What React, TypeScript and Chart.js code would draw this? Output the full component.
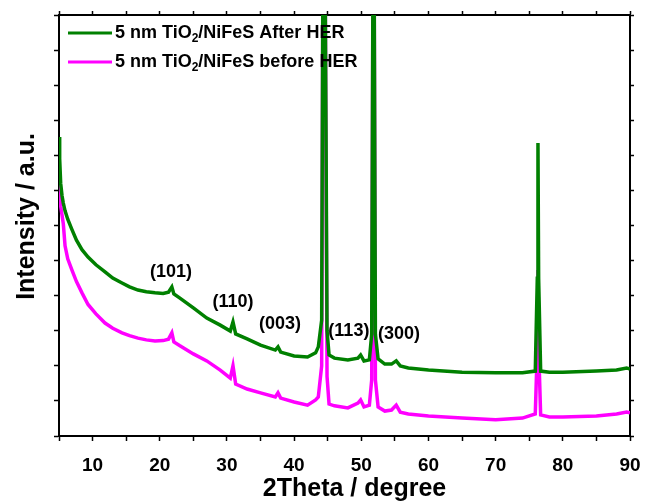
import React, { useEffect, useRef } from 'react';
import { Chart, registerables } from 'chart.js';

Chart.register(...registerables);

// 2Theta positions (degree)
const twoTheta = [
  5.0, 5.1, 5.25, 5.45, 5.64, 5.9, 6.3, 6.93, 7.6, 8.42, 9.32, 10.5, 11.85, 13, 14.38, 15.5, 16.76, 18, 19.29, 20.5,
  21.3, 21.8, 22.1, 23, 25, 27, 29, 30.5, 30.9, 31.3, 33, 35, 37.2, 37.6, 38, 40, 42, 43.2, 43.6, 44.1,
  44.3, 44.6, 44.9, 45.2, 46, 48, 49.5, 49.9, 50.4, 51.2, 51.55, 51.75, 51.9, 52.1, 52.5, 53.5, 54.5, 55.2, 55.8, 57,
  60, 65, 70, 74, 75.9, 76.2, 76.3, 76.4, 76.7, 78, 80, 85, 88, 89.5, 90,
];

// Intensity (a.u.) – 5 nm TiO2/NiFeS after HER
const afterHER = [
  8.52, 7.9, 7.2, 6.85, 6.64, 6.42, 6.18, 5.88, 5.58, 5.31, 5.1, 4.88, 4.68, 4.5, 4.36, 4.25, 4.16, 4.11, 4.08, 4.06,
  4.1, 4.25, 4.05, 3.93, 3.65, 3.36, 3.16, 2.99, 3.25, 2.91, 2.77, 2.59, 2.45, 2.54, 2.39, 2.28, 2.25, 2.37, 2.54, 3.3,
  14, 14, 3.0, 2.31, 2.22, 2.17, 2.22, 2.31, 2.14, 2.17, 2.9, 14, 14, 2.9, 2.2, 2.05, 2.05, 2.14, 2.0, 1.94,
  1.88, 1.82, 1.8, 1.8, 1.85, 4.5, 8.35, 4.5, 1.85, 1.82, 1.82, 1.85, 1.88, 1.94, 1.91,
];

// Intensity (a.u.) – 5 nm TiO2/NiFeS before HER
const beforeHER = [
  7.16, 6.85, 6.55, 6.3, 6.05, 5.42, 5.05, 4.73, 4.4, 4.08, 3.75, 3.48, 3.22, 3.07, 2.94, 2.86, 2.79, 2.74, 2.71, 2.72,
  2.76, 2.94, 2.68, 2.57, 2.34, 2.14, 1.88, 1.65, 2.0, 1.48, 1.34, 1.23, 1.11, 1.23, 1.08, 0.97, 0.88, 1.03, 1.11, 2.0,
  14, 14, 1.7, 0.91, 0.86, 0.8, 0.94, 1.03, 0.83, 0.88, 1.6, 14, 14, 1.6, 0.83, 0.71, 0.74, 0.88, 0.68, 0.63,
  0.57, 0.51, 0.46, 0.51, 0.63, 2.5, 4.73, 2.5, 0.6, 0.54, 0.54, 0.57, 0.63, 0.68, 0.66,
];

const seriesColors = ['#008000', '#ff00ff'];
const legendPrefix = '5 nm TiO';
const legendSub = '2';
const legendSuffixes = ['/NiFeS After HER', '/NiFeS before HER'];

const peakLabels = ['(101)', '(110)', '(003)', '(113)', '(300)'];
const peakLabelX = [21.67, 30.9, 37.9, 48.15, 55.6];
const peakLabelY = [4.68, 3.82, 3.19, 2.99, 2.91];

const xTitle = '2Theta / degree';
const yTitle = 'Intensity / a.u.';

const FONT = '"Liberation Sans", Arial, sans-serif';

const overlayPlugin = {
  id: 'overlay',
  afterDraw(chart: any) {
    const { ctx, chartArea, scales } = chart;
    ctx.save();
    ctx.fillStyle = '#000';
    ctx.font = `bold 18px ${FONT}`;
    ctx.textAlign = 'center';
    ctx.textBaseline = 'middle';
    peakLabels.forEach((t, i) => {
      ctx.fillText(t, scales.x.getPixelForValue(peakLabelX[i]), scales.y.getPixelForValue(peakLabelY[i]));
    });
    // axis titles
    ctx.font = `bold 25px ${FONT}`;
    ctx.fillText(xTitle, (chartArea.left + chartArea.right) / 2 + 10, 489);
    ctx.save();
    ctx.translate(27, (chartArea.top + chartArea.bottom) / 2 - 9);
    ctx.rotate(-Math.PI / 2);
    ctx.fillText(yTitle, 0, 0);
    ctx.restore();
    // legend
    legendSuffixes.forEach((suffix, i) => {
      const y = chartArea.top + 18 + i * 29;
      const x0 = chartArea.left + 9;
      ctx.strokeStyle = seriesColors[i];
      ctx.lineWidth = 3;
      ctx.beginPath();
      ctx.moveTo(x0, y);
      ctx.lineTo(x0 + 44, y);
      ctx.stroke();
      ctx.fillStyle = '#000';
      ctx.textAlign = 'left';
      ctx.textBaseline = 'middle';
      let x = x0 + 47;
      ctx.font = `bold 18px ${FONT}`;
      ctx.fillText(legendPrefix, x, y);
      x += ctx.measureText(legendPrefix).width;
      ctx.font = `bold 12px ${FONT}`;
      ctx.fillText(legendSub, x, y + 6);
      x += ctx.measureText(legendSub).width;
      ctx.font = `bold 18px ${FONT}`;
      ctx.fillText(suffix, x, y);
    });
    ctx.restore();
  },
};

export default function App() {
  const ref = useRef<HTMLCanvasElement | null>(null);
  useEffect(() => {
    if (!ref.current) return;
    const tickGrid = (len: number) => ({
      drawOnChartArea: false,
      drawTicks: true,
      tickLength: len,
      color: '#000',
      tickWidth: 1.5,
    });
    const border = { display: true, color: '#000', width: 2 };
    const noPad = (s: any) => {
      s.paddingLeft = 0;
      s.paddingRight = 0;
      s.paddingTop = 0;
      s.paddingBottom = 0;
    };
    const chart = new Chart(ref.current, {
      type: 'line',
      data: {
        datasets: [
          {
            label: legendPrefix + legendSub + legendSuffixes[0],
            data: twoTheta.map((x, i) => ({ x, y: afterHER[i] })),
            borderColor: seriesColors[0],
            borderWidth: 3.5,
            pointRadius: 0,
            tension: 0,
          },
          {
            label: legendPrefix + legendSub + legendSuffixes[1],
            data: twoTheta.map((x, i) => ({ x, y: beforeHER[i] })),
            borderColor: seriesColors[1],
            borderWidth: 3.5,
            pointRadius: 0,
            tension: 0,
          },
        ],
      },
      options: {
        animation: false,
        responsive: false,
        devicePixelRatio: 1,
        layout: { padding: 0 },
        plugins: { legend: { display: false }, tooltip: { enabled: false } },
        scales: {
          x: {
            type: 'linear',
            position: 'bottom',
            min: 5,
            max: 90,
            ticks: {
              stepSize: 5,
              autoSkip: false,
              maxRotation: 0,
              padding: 13,
              color: '#000',
              font: { family: FONT, size: 19, weight: 'bold' },
              callback: (v: any) => (Number(v) % 10 === 0 ? String(v) : ''),
            },
            grid: tickGrid(5),
            border,
            afterFit: (s: any) => {
              s.height = 67;
              noPad(s);
            },
          },
          x2: {
            type: 'linear',
            position: 'top',
            min: 5,
            max: 90,
            ticks: { stepSize: 5, autoSkip: false, maxRotation: 0, callback: () => '' },
            grid: tickGrid(4),
            border,
            afterFit: (s: any) => {
              s.height = 15;
              noPad(s);
            },
          },
          y: {
            type: 'linear',
            position: 'left',
            min: 0,
            max: 12,
            ticks: { stepSize: 1, callback: () => '' },
            grid: tickGrid(5),
            border,
            afterFit: (s: any) => {
              s.width = 59;
              noPad(s);
            },
          },
          y2: {
            type: 'linear',
            position: 'right',
            min: 0,
            max: 12,
            ticks: { stepSize: 1, callback: () => '' },
            grid: tickGrid(4),
            border,
            afterFit: (s: any) => {
              s.width = 16;
              noPad(s);
            },
          },
        },
      } as any,
      plugins: [overlayPlugin],
    });
    return () => chart.destroy();
  }, []);
  return (
    <div style={{ position: 'absolute', left: 0, top: 0, width: 646, height: 503, background: '#fff' }}>
      <canvas ref={ref} width={646} height={503} />
    </div>
  );
}
